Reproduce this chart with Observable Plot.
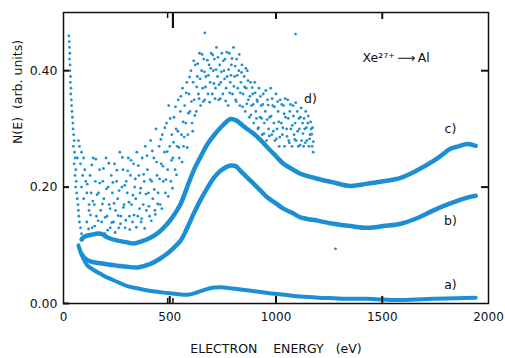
<!DOCTYPE html>
<html>
<head>
<meta charset="utf-8">
<script src="https://cdn.jsdelivr.net/npm/d3@7"></script>
<script src="https://cdn.jsdelivr.net/npm/@observablehq/plot@0.6"></script>
<style>
  html, body { margin: 0; padding: 0; background: #ffffff; }
  #chart { width: 505px; height: 358px; }
</style>
</head>
<body>
<div id="chart"></div>
<script>
// ---- data ----
const xTicks = [0, 500, 1000, 1500, 2000];
const yTicks = [0, 0.2, 0.4];
const xInnerTicks = [500, 1000, 1500];
const xTopTicks = [1000, 1500];
const yRightTicks = [0.2, 0.4];

// curve a)
const aE = [70,90,113,140,174,210,254,300,362,420,489,540,583,620,660,700,740,790,833,900,960,1040,1115,1200,1271,1350,1430,1500,1586,1660,1745,1850,1940];
const aN = [0.10,0.08,0.065,0.058,0.051,0.044,0.037,0.030,0.025,0.021,0.018,0.016,0.015,0.018,0.023,0.027,0.028,0.026,0.024,0.021,0.018,0.015,0.012,0.010,0.009,0.008,0.008,0.007,0.006,0.007,0.008,0.009,0.010];

// curve b)
const bE = [85,100,130,174,210,254,300,350,409,450,489,520,551,580,612,645,678,710,739,786,810,833,860,894,930,960,1000,1035,1080,1115,1200,1271,1350,1431,1506,1586,1660,1741,1820,1901,1940];
const bN = [0.085,0.078,0.072,0.069,0.067,0.065,0.063,0.062,0.068,0.076,0.086,0.096,0.108,0.128,0.154,0.178,0.199,0.217,0.228,0.237,0.236,0.228,0.218,0.206,0.193,0.182,0.172,0.163,0.155,0.148,0.142,0.137,0.133,0.130,0.133,0.137,0.146,0.160,0.172,0.182,0.185];

// curve c)
const cE = [85,100,130,174,210,254,300,330,370,409,450,489,520,551,580,612,645,678,710,739,786,810,833,860,894,930,960,1000,1035,1080,1115,1200,1271,1351,1431,1506,1586,1660,1741,1780,1821,1860,1901,1940];
const cN = [0.11,0.115,0.118,0.12,0.113,0.108,0.105,0.103,0.107,0.113,0.123,0.137,0.152,0.171,0.198,0.228,0.252,0.274,0.290,0.302,0.317,0.315,0.309,0.301,0.292,0.280,0.268,0.253,0.240,0.230,0.223,0.214,0.208,0.202,0.206,0.210,0.216,0.228,0.245,0.255,0.266,0.270,0.274,0.271];

// curve d) : scattered points [E, N]
const dPoints = [
 [25,0.46],[27,0.45],[28,0.44],[30,0.43],[28,0.42],[31,0.41],[30,0.40],[33,0.39],[32,0.38],[35,0.37],[34,0.36],[37,0.35],[38,0.34],[40,0.33],[42,0.32],[44,0.31],[45,0.30],[48,0.29],[50,0.28],[46,0.27],[52,0.26],[55,0.25],[50,0.24],[58,0.23],[54,0.22],[60,0.21],[57,0.20],[62,0.19],[65,0.18],[68,0.17],[70,0.16],[72,0.15],[75,0.14],[80,0.13],[85,0.12],[90,0.11],
 [70,0.28],[75,0.27],[85,0.26],[65,0.25],[80,0.24],[95,0.25],[100,0.23],[90,0.22],[105,0.21],[85,0.20],[110,0.19],[95,0.18],[120,0.17],
 [110,0.14],[120,0.16],[125,0.22],[130,0.19],[135,0.13],[140,0.25],[145,0.17],[150,0.21],[155,0.15],[160,0.12],[165,0.19],[170,0.23],[175,0.16],[180,0.14],[185,0.21],[190,0.18],[195,0.12],[200,0.25],[205,0.15],[210,0.20],[215,0.17],[220,0.13],[225,0.22],[230,0.19],[235,0.14],[240,0.24],[245,0.16],[250,0.21],[255,0.18],[260,0.13],[265,0.26],[270,0.15],[275,0.20],[280,0.23],[285,0.17],[290,0.13],[295,0.21],[300,0.19],[305,0.25],[310,0.15],[315,0.22],[320,0.17],[325,0.14],[330,0.24],[335,0.20],[340,0.18],[345,0.26],[350,0.15],[355,0.22],[360,0.19],[365,0.14],[370,0.25],[375,0.17],[380,0.21],[385,0.27],[390,0.16],[395,0.23],[400,0.19],[405,0.15],[410,0.28],[415,0.21],[420,0.18],[425,0.25],[430,0.16],[435,0.30],[440,0.22],[445,0.19],[450,0.27],
 [455,0.17],[460,0.24],[465,0.29],[470,0.21],[475,0.26],[480,0.19],[485,0.31],[490,0.23],[495,0.34],[500,0.27],[505,0.21],[510,0.29],[515,0.25],[520,0.32],[525,0.23],[530,0.30],[535,0.27],[540,0.35],[545,0.25],[550,0.33],[555,0.29],[560,0.37],[565,0.27],[570,0.34],[575,0.31],[580,0.38],[585,0.29],[590,0.36],[595,0.33],[600,0.40],[605,0.31],[610,0.38],[615,0.35],[620,0.41],[625,0.33],[630,0.39],[635,0.36],[640,0.43],[645,0.34],[650,0.40],[655,0.37],[660,0.42],[665,0.35],[670,0.39],[665,0.465],[680,0.36],[685,0.41],[690,0.38],[695,0.43],[700,0.36],
 [705,0.40],[710,0.42],[715,0.37],[720,0.44],[725,0.39],[730,0.35],[735,0.41],[740,0.38],[745,0.43],[750,0.36],[755,0.40],[760,0.42],[765,0.37],[770,0.39],[775,0.34],[780,0.43],[785,0.38],[790,0.41],[795,0.36],[800,0.44],[805,0.39],[810,0.35],[815,0.42],[820,0.37],[825,0.40],[830,0.34],[835,0.38],[840,0.41],[845,0.36],[850,0.39],[855,0.33],[860,0.37],[865,0.40],[870,0.35],[875,0.32],[880,0.38],[885,0.34],[890,0.36],[895,0.31],[900,0.38],
 [905,0.33],[910,0.35],[915,0.30],[920,0.37],[925,0.32],[930,0.34],[935,0.29],[940,0.36],[945,0.31],[950,0.33],[955,0.28],[960,0.35],[965,0.30],[970,0.32],[975,0.37],[980,0.29],[985,0.34],[990,0.31],[995,0.28],[1000,0.36],[1005,0.30],[1010,0.33],[1015,0.27],[1020,0.35],[1025,0.31],[1030,0.29],[1035,0.34],[1040,0.27],[1045,0.32],[1050,0.30],[1055,0.35],[1060,0.28],[1065,0.33],[1070,0.30],[1075,0.27],[1080,0.34],[1085,0.29],[1090,0.31],[1095,0.28],[1100,0.33],[1105,0.27],[1110,0.30],[1115,0.32],[1120,0.28],[1125,0.31],[1130,0.27],[1135,0.30],[1140,0.33],[1145,0.28],[1150,0.31],[1155,0.27],[1160,0.29],[1165,0.30],[1170,0.27],[1175,0.26],
 [1092,0.463],[1280,0.094]
];
const dPoints2 = [
 [112,0.205],[118,0.128],[127,0.152],[133,0.238],[138,0.176],[147,0.133],[152,0.248],[158,0.187],[163,0.142],[171,0.207],[177,0.118],[183,0.171],[188,0.232],[196,0.148],[202,0.197],[208,0.126],[213,0.241],[219,0.163],[227,0.139],[232,0.208],[238,0.172],[243,0.122],[251,0.229],[257,0.151],[262,0.194],[268,0.137],[277,0.251],[282,0.165],[288,0.203],[293,0.143],[302,0.228],[308,0.174],[312,0.127],[318,0.246],[327,0.186],[332,0.152],[338,0.214],[343,0.131],[352,0.237],[358,0.163],[363,0.198],[368,0.146],[377,0.222],[382,0.129],[388,0.188],[393,0.254],[402,0.167],[408,0.213],[413,0.142],[418,0.262],[427,0.196],[432,0.153],[438,0.243],[443,0.171],
 [452,0.214],[458,0.282],[463,0.163],[468,0.236],[477,0.302],[482,0.213],[488,0.261],[493,0.184],[502,0.318],[508,0.246],[513,0.198],[518,0.277],[527,0.338],[532,0.221],[538,0.296],[543,0.268],[552,0.356],[558,0.243],[563,0.312],[568,0.286],[577,0.362],[582,0.268],[588,0.327],[593,0.389],[602,0.347],[608,0.296],[613,0.417],[618,0.323],[627,0.372],[632,0.412],[638,0.352],[643,0.386],[652,0.428],[658,0.347],[663,0.398],[668,0.372],[677,0.418],[682,0.392],[688,0.346],[693,0.404],
 [702,0.427],[708,0.378],[713,0.352],[718,0.402],[727,0.423],[732,0.376],[738,0.352],[743,0.398],[752,0.417],[758,0.386],[763,0.348],[768,0.432],[777,0.402],[782,0.362],[788,0.392],[793,0.421],[802,0.373],[808,0.408],[813,0.347],[818,0.392],[827,0.428],[832,0.362],[838,0.397],[843,0.338],[852,0.372],[858,0.404],[863,0.343],[868,0.383],[877,0.356],[882,0.324],[888,0.371],[893,0.342],
 [902,0.362],[908,0.318],[913,0.347],[918,0.302],[927,0.356],[932,0.318],[938,0.342],[943,0.292],[952,0.366],[958,0.316],[963,0.341],[968,0.288],[977,0.322],[982,0.352],[988,0.296],[993,0.338],[1002,0.283],[1008,0.347],[1013,0.312],[1018,0.286],[1027,0.342],[1032,0.302],[1038,0.326],[1043,0.352],[1052,0.287],[1058,0.318],[1063,0.276],[1068,0.342],[1077,0.306],[1082,0.322],[1088,0.282],[1093,0.345],[1102,0.296],[1108,0.318],[1113,0.272],[1118,0.336],[1127,0.292],[1132,0.318],[1138,0.276],[1143,0.302],[1152,0.322],[1158,0.283],[1163,0.312],[1168,0.291],[1172,0.302],[1176,0.278]
];

// annotations
const curveLabels = ["d)", "c)", "b)", "a)"];
const curveLabelE = [1162, 1821, 1821, 1821];
const curveLabelN = [0.352, 0.300, 0.142, 0.031];
const titleText = "Xe\u00B2\u2077\u207A\u2009\u27F6\u2009Al";
const titleE = 1407, titleN = 0.422;
const markerE = [490, 515];
const xLabel = "ELECTRON\u00A0\u00A0\u00A0\u00A0ENERGY\u00A0\u00A0\u00A0(eV)";
const yLabel = "N(E)\u00A0\u00A0(arb.\u00A0units)";

// ---- build ----
const blue = "#1c8fd4";
const ink = "#111";
const toRows = (E, N) => E.map((e, i) => ({E: e, N: N[i]}));
const aRows = toRows(aE, aN), bRows = toRows(bE, bN), cRows = toRows(cE, cN);
const dRows = dPoints.concat(dPoints2).map(([E, N]) => ({E, N}));
const lblRows = curveLabels.map((t, i) => ({t, E: curveLabelE[i], N: curveLabelN[i]}));

const W = 505, H = 358, mL = 63, mR = 17, mT = 12, mB = 55;
const xDom = [0, 2000], yDom = [0, 0.5];
// convert a pixel tick length into data units along each axis
const ylen = px => px / (H - mT - mB) * (yDom[1] - yDom[0]);
const xlen = px => px / (W - mL - mR) * (xDom[1] - xDom[0]);
const yTop = yDom[1], xRight = xDom[1];

const chart = Plot.plot({
  width: W,
  height: H,
  marginLeft: mL,
  marginRight: mR,
  marginTop: mT,
  marginBottom: mB,
  style: {fontFamily: "'DejaVu Sans', sans-serif", fontSize: "12px", color: ink, background: "#fff"},
  x: {domain: xDom},
  y: {domain: yDom},
  marks: [
    // tick labels
    Plot.axisX({ticks: xTicks, tickSize: 0, tickPadding: 9, tickFormat: "d", label: null, fontSize: 12}),
    Plot.axisY({ticks: yTicks, tickSize: 0, tickPadding: 6, tickFormat: ".2f", label: null, fontSize: 12.5}),
    // data
    Plot.dot(dRows, {x: "E", y: "N", r: 1.4, fill: blue, stroke: "none"}),
    Plot.line(cRows, {x: "E", y: "N", stroke: blue, strokeWidth: 4.5, curve: "catmull-rom"}),
    Plot.line(bRows, {x: "E", y: "N", stroke: blue, strokeWidth: 4.5, curve: "catmull-rom"}),
    Plot.line(aRows, {x: "E", y: "N", stroke: blue, strokeWidth: 4, curve: "catmull-rom"}),
    Plot.frame({stroke: ink, strokeWidth: 1.5}),
    // inward ticks
    Plot.ruleX(xInnerTicks, {x: d => d, y1: yDom[0], y2: yDom[0] + ylen(7), stroke: ink, strokeWidth: 2}),
    Plot.ruleX(xTopTicks, {x: d => d, y1: yTop, y2: yTop - ylen(7), stroke: ink, strokeWidth: 2}),
    Plot.ruleY(yTicks, {y: d => d, x1: xDom[0], x2: xDom[0] + xlen(6), stroke: ink, strokeWidth: 2}),
    Plot.ruleY(yRightTicks, {y: d => d, x1: xRight, x2: xRight - xlen(7), stroke: ink, strokeWidth: 2}),
    // energy markers
    Plot.ruleX([markerE[1]], {x: d => d, y1: yTop, y2: yTop - ylen(16), stroke: ink, strokeWidth: 2.2}),
    Plot.ruleX([markerE[0]], {x: d => d, y1: yTop, y2: yTop - ylen(6), stroke: ink, strokeWidth: 1.5}),
    Plot.ruleX(markerE, {x: d => d, y1: yDom[0], y2: yDom[0] + ylen(5), stroke: ink, strokeWidth: 1.5}),
    // annotations
    Plot.text(lblRows, {x: "E", y: "N", text: "t", fontSize: 12.5, fill: ink}),
    Plot.text([titleText], {x: () => titleE, y: () => titleN, text: d => d, textAnchor: "start", fontSize: 12.5, fill: ink}),
    Plot.text([xLabel], {frameAnchor: "bottom", dy: 49, text: d => d, fontSize: 12.5, fill: ink}),
    Plot.text([yLabel], {frameAnchor: "left", dx: -46, dy: -14, rotate: -90, text: d => d, fontSize: 12.5, fill: ink})
  ]
});
document.getElementById("chart").appendChild(chart);
</script>
</body>
</html>
